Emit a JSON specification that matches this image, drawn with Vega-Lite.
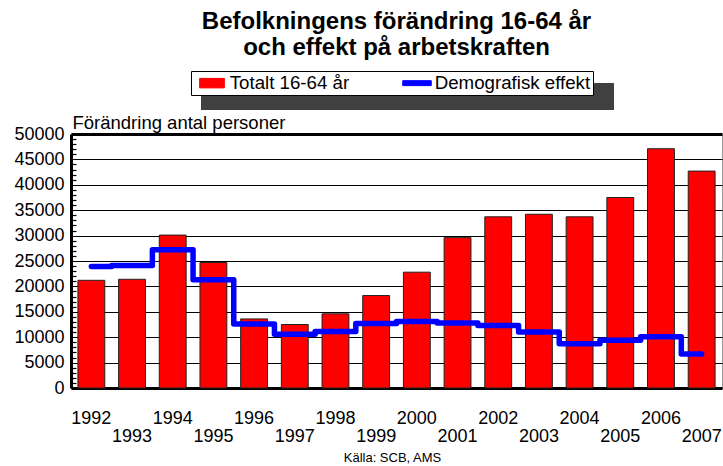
{
  "$schema": "https://vega.github.io/schema/vega-lite/v6.json",
  "width": 651,
  "height": 254,
  "autosize": {"type": "none"},
  "padding": {"left": 71, "top": 134, "right": 1, "bottom": 78},
  "background": "white",
  "config": {
    "font": "Liberation Sans",
    "view": {"stroke": "#999999", "strokeWidth": 1}
  },
  "title": {
    "text": ["Befolkningens förändring 16-64 år", "och effekt på arbetskraften"],
    "font": "Liberation Sans",
    "fontSize": 24,
    "fontWeight": "bold",
    "color": "black",
    "anchor": "middle",
    "frame": "group",
    "lineHeight": 26,
    "offset": 11
  },
  "data": {
    "values": [
      {"year": 1992, "total": 21200, "demo": 23900},
      {"year": 1993, "total": 21400, "demo": 24100},
      {"year": 1994, "total": 30100, "demo": 27200},
      {"year": 1995, "total": 24700, "demo": 21300},
      {"year": 1996, "total": 13600, "demo": 12600},
      {"year": 1997, "total": 12500, "demo": 10600},
      {"year": 1998, "total": 14600, "demo": 11100},
      {"year": 1999, "total": 18200, "demo": 12700},
      {"year": 2000, "total": 22800, "demo": 13100},
      {"year": 2001, "total": 29600, "demo": 12800},
      {"year": 2002, "total": 33700, "demo": 12300},
      {"year": 2003, "total": 34200, "demo": 11000},
      {"year": 2004, "total": 33700, "demo": 8700},
      {"year": 2005, "total": 37500, "demo": 9400},
      {"year": 2006, "total": 47100, "demo": 10100},
      {"year": 2007, "total": 42700, "demo": 6700}
    ]
  },
  "resolve": {"axis": {"y": "independent"}},
  "encoding": {
    "x": {
      "field": "year",
      "type": "ordinal",
      "scale": {"paddingInner": 0.34, "paddingOuter": 0.17},
      "axis": {
        "title": "Källa: SCB, AMS",
        "titleFont": "Liberation Sans",
        "titleFontSize": 13,
        "titleFontWeight": "normal",
        "titleColor": "black",
        "titleX": 321,
        "titleY": 69,
        "titleAlign": "center",
        "titleBaseline": "middle",
        "labelAngle": 0,
        "labelFont": "Liberation Sans",
        "labelFontSize": 18,
        "labelColor": "black",
        "labelBaseline": "top",
        "labelOverlap": false,
        "labelPadding": {"condition": {"test": "toNumber(datum.value) % 2 === 1", "value": 39}, "value": 21},
        "ticks": false,
        "domainColor": "black",
        "domainWidth": 3
      }
    }
  },
  "layer": [
    {
      "mark": {"type": "bar", "stroke": "#222222", "strokeWidth": 1},
      "encoding": {
        "y": {
          "field": "total",
          "type": "quantitative",
          "scale": {"domain": [0, 50000], "nice": false},
          "axis": {
            "title": "Förändring antal personer",
            "titleFont": "Liberation Sans",
            "titleFontSize": 18.5,
            "titleFontWeight": "normal",
            "titleColor": "black",
            "titleAngle": 0,
            "titleAlign": "left",
            "titleBaseline": "middle",
            "titleX": 1,
            "titleY": -12,
            "values": [0, 1000, 2000, 3000, 4000, 5000, 6000, 7000, 8000, 9000, 10000, 11000, 12000, 13000, 14000, 15000, 16000, 17000, 18000, 19000, 20000, 21000, 22000, 23000, 24000, 25000, 26000, 27000, 28000, 29000, 30000, 31000, 32000, 33000, 34000, 35000, 36000, 37000, 38000, 39000, 40000, 41000, 42000, 43000, 44000, 45000, 46000, 47000, 48000, 49000, 50000],
            "labelExpr": "datum.value % 5000 === 0 ? format(datum.value, 'd') : ''",
            "labelFont": "Liberation Sans",
            "labelFontSize": 18,
            "labelColor": "black",
            "labelPadding": 7,
            "labelOverlap": false,
            "labelFlush": false,
            "tickSize": {"condition": {"test": "datum.value % 5000 === 0", "value": 0}, "value": -5},
            "tickColor": "black",
            "tickWidth": 1.2,
            "domainColor": "black",
            "domainWidth": 3,
            "grid": true,
            "gridColor": "black",
            "gridOpacity": {"condition": {"test": "datum.value % 5000 === 0", "value": 1}, "value": 0},
            "gridWidth": {"condition": {"test": "datum.value === 50000", "value": 3}, "value": 1.2}
          }
        },
        "color": {
          "datum": "Totalt 16-64 år",
          "scale": {"domain": ["Totalt 16-64 år", "Demografisk effekt"], "range": ["#ff0000", "#0000ff"]},
          "legend": {
            "orient": "none",
            "legendX": 120,
            "legendY": -63,
            "direction": "horizontal",
            "columns": 2,
            "title": null,
            "fillColor": "white",
            "strokeColor": "black",
            "padding": 2,
            "symbolSize": 361,
            "symbolOffset": 9,
            "labelOffset": 7.7,
            "columnPadding": 48,
            "labelFont": "Liberation Sans",
            "labelFontSize": 18.7,
            "labelColor": "black",
            "labelLimit": 0,
            "symbolStrokeWidth": 1,
            "zindex": 2
          }
        }
      }
    },
    {
      "mark": {"type": "line", "interpolate": "step", "strokeWidth": 5.5, "strokeCap": "round", "strokeJoin": "round"},
      "encoding": {
        "y": {"field": "demo", "type": "quantitative", "axis": null},
        "color": {"datum": "Demografisk effekt"}
      }
    },
    {
      "transform": [{"filter": "false"}],
      "mark": {"type": "point", "filled": true},
      "encoding": {
        "y": {"field": "total", "type": "quantitative", "axis": null},
        "color": {"datum": "Totalt 16-64 år"},
        "shape": {
          "datum": "Totalt 16-64 år",
          "scale": {"domain": ["Totalt 16-64 år", "Demografisk effekt"], "range": ["M-1.3,-0.5H1.3V0.5H-1.3Z", "M-1.5,-0.26H1.5V0.26H-1.5Z"]}
        }
      }
    },
    {
      "transform": [{"filter": "false"}],
      "mark": {"type": "point", "filled": true},
      "encoding": {
        "y": {"field": "total", "type": "quantitative", "axis": null},
        "color": {"datum": "Demografisk effekt"},
        "shape": {"datum": "Demografisk effekt"}
      }
    },
    {
      "transform": [{"filter": "false"}],
      "mark": {"type": "point", "filled": true, "color": "#404040"},
      "encoding": {
        "y": {"field": "total", "type": "quantitative", "axis": null},
        "size": {
          "datum": "shadow",
          "scale": {"domain": ["shadow"], "range": [400, 400]},
          "legend": {
            "orient": "none",
            "legendX": 326.5,
            "legendY": -47.5,
            "title": null,
            "padding": 0,
            "fillColor": null,
            "strokeColor": null,
            "symbolType": "M-20.65,-1.35H20.65V1.35H-20.65Z",
            "symbolFillColor": "#404040",
            "symbolStrokeColor": "#404040",
            "symbolStrokeWidth": 0,
            "symbolOpacity": 1,
            "labelExpr": "''",
            "labelOffset": 0,
            "labelFontSize": 1,
            "zindex": 1
          }
        }
      }
    }
  ]
}
